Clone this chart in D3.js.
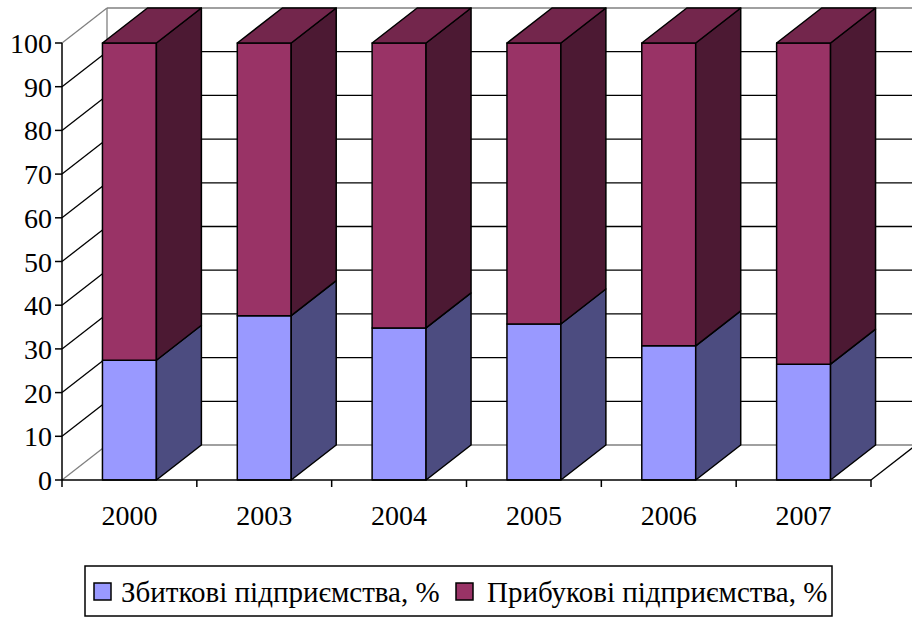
<!DOCTYPE html>
<html><head><meta charset="utf-8">
<script src="https://cdn.jsdelivr.net/npm/d3@7"></script>
<style>html,body{margin:0;padding:0;background:#fff;}svg{display:block;}</style>
</head><body>
<svg id="c" width="912" height="617"></svg>
<script>
const years = ["2000","2003","2004","2005","2006","2007"];
const lossPct = [27.4, 37.6, 34.8, 35.7, 30.7, 26.5];
const profitPct = [72.6, 62.4, 65.2, 64.3, 69.3, 73.5];
const yTicks = [0,10,20,30,40,50,60,70,80,90,100];
const seriesNames = ["Збиткові підприємства, %", "Прибукові підприємства, %"];
const colors = ["#9999FF", "#993366"];
const sideColors = ["#4C4C80", "#4C1933"];
const topColors = ["#737399", "#73264C"];

const FONT = '"Liberation Serif", "Times New Roman", Tinos, serif';
const svg = d3.select("#c");
const x = d3.scaleBand().domain(years).range([62, 871]);
const y = d3.scaleLinear().domain([0, 100]).range([480, 43]);
const DX = 45, DY = -35;
const barW = x.bandwidth() * 0.4;
const xRight = 871;

const g = svg.append("g");
g.selectAll("line.bg").data(yTicks.filter(t => t > 0 && t < 100)).enter().append("line")
  .attr("x1", 62 + DX).attr("x2", 930).attr("y1", d => y(d) + DY).attr("y2", d => y(d) + DY)
  .attr("stroke", "#000").attr("stroke-width", 1.3);
g.selectAll("line.sg").data(yTicks.filter(t => t > 0 && t < 100)).enter().append("line")
  .attr("x1", 62).attr("x2", 62 + DX).attr("y1", d => y(d)).attr("y2", d => y(d) + DY)
  .attr("stroke", "#000").attr("stroke-width", 1.3);
const gray = "#808080";
const edges = [
  [62, y(100), 62 + DX, y(100) + DY],
  [62 + DX, y(100) + DY, 930, y(100) + DY],
  [62 + DX, y(100) + DY, 62 + DX, y(0) + DY],
  [62 + DX, y(0) + DY, xRight + DX, y(0) + DY],
  [62, y(0), 62 + DX, y(0) + DY]
];
g.selectAll("line.edge").data(edges).enter().append("line")
  .attr("x1", d => d[0]).attr("y1", d => d[1]).attr("x2", d => d[2]).attr("y2", d => d[3])
  .attr("stroke", gray).attr("stroke-width", 1.3);
g.append("line").attr("x1", xRight).attr("y1", y(0)).attr("x2", xRight + DX).attr("y2", y(0) + DY)
  .attr("stroke", "#000").attr("stroke-width", 1.3);

const stacks = years.map((yr, i) => [
  {s: 0, y0: 0, y1: lossPct[i]},
  {s: 1, y0: lossPct[i], y1: lossPct[i] + profitPct[i]}
]);
years.forEach((yr, i) => {
  const bx = x(yr) + (x.bandwidth() - barW) / 2;
  const bg = g.append("g");
  stacks[i].forEach((seg, k) => {
    const yt = y(seg.y1), yb = y(seg.y0);
    bg.append("rect").attr("x", bx).attr("y", yt).attr("width", barW).attr("height", yb - yt)
      .attr("fill", colors[seg.s]).attr("stroke", "#000").attr("stroke-width", 1.5).attr("stroke-linejoin", "round");
    const side = [[bx + barW, yb], [bx + barW + DX, yb + DY], [bx + barW + DX, yt + DY], [bx + barW, yt]];
    bg.append("path").attr("d", d3.line()(side) + "Z")
      .attr("fill", sideColors[seg.s]).attr("stroke", "#000").attr("stroke-width", 1.5).attr("stroke-linejoin", "round");
    if (k === stacks[i].length - 1) {
      const top = [[bx, yt], [bx + DX, yt + DY], [bx + barW + DX, yt + DY], [bx + barW, yt]];
      bg.append("path").attr("d", d3.line()(top) + "Z")
        .attr("fill", topColors[seg.s]).attr("stroke", "#000").attr("stroke-width", 1.5).attr("stroke-linejoin", "round");
    }
  });
});

const ax = svg.append("g");
ax.append("line").attr("x1", 62).attr("x2", 62).attr("y1", y(100)).attr("y2", y(0)).attr("stroke", "#000").attr("stroke-width", 1.5);
ax.append("line").attr("x1", 62).attr("x2", xRight).attr("y1", y(0)).attr("y2", y(0)).attr("stroke", "#000").attr("stroke-width", 1.5);
ax.selectAll("line.yt").data(yTicks).enter().append("line")
  .attr("x1", 55).attr("x2", 62).attr("y1", d => y(d)).attr("y2", d => y(d)).attr("stroke", "#000").attr("stroke-width", 1.5);
ax.selectAll("text.yl").data(yTicks).enter().append("text")
  .attr("x", 52).attr("y", d => y(d) + 10).attr("text-anchor", "end")
  .style("font-family", FONT).style("font-size", "28px").text(d => d);
const bounds = years.map(v => x(v)).concat([xRight]);
ax.selectAll("line.xt").data(bounds).enter().append("line")
  .attr("x1", d => d).attr("x2", d => d).attr("y1", y(0)).attr("y2", y(0) + 7).attr("stroke", "#000").attr("stroke-width", 1.5);
ax.selectAll("text.xl").data(years).enter().append("text")
  .attr("x", d => x(d) + x.bandwidth() / 2).attr("y", 525).attr("text-anchor", "middle")
  .style("font-family", FONT).style("font-size", "28px").text(d => d);

const lg = svg.append("g");
lg.append("rect").attr("x", 85).attr("y", 566).attr("width", 747).attr("height", 50)
  .attr("fill", "#fff").attr("stroke", "#000").attr("stroke-width", 1.5);
const legX = [94, 456];
const legTX = [121, 487];
seriesNames.forEach((n, i) => {
  lg.append("rect").attr("x", legX[i]).attr("y", 583).attr("width", 17).attr("height", 17)
    .attr("fill", colors[i]).attr("stroke", "#000").attr("stroke-width", 1.5);
  lg.append("text").attr("x", legTX[i]).attr("y", 602)
    .style("font-family", FONT).style("font-size", "29px").text(n);
});
</script>
</body></html>
